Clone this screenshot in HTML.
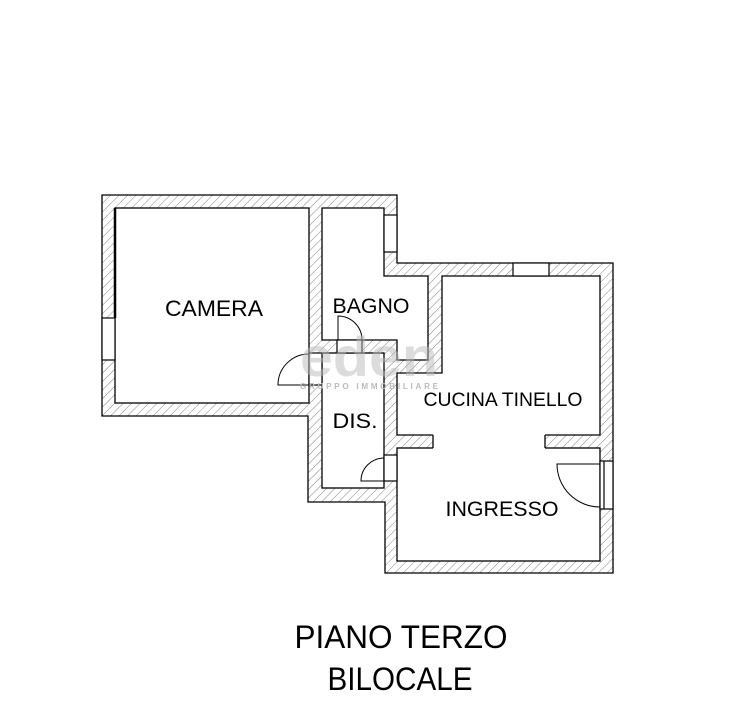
<!DOCTYPE html>
<html><head><meta charset="utf-8"><style>html,body{margin:0;padding:0;background:#fff}svg{display:block}</style></head>
<body>
<svg width="736" height="718" viewBox="0 0 736 718" xmlns="http://www.w3.org/2000/svg" font-family="Liberation Sans, sans-serif">
<defs>
<pattern id="h" patternUnits="userSpaceOnUse" width="6" height="6" patternTransform="rotate(45)">
<rect width="6" height="6" fill="#fff"/>
<line x1="0" y1="0" x2="0" y2="6" stroke="#666" stroke-width="0.8"/>
</pattern>
</defs>
<polygon points="102,195 397,195 397,263 613,263 613,573 385,573 385,502 308,502 308,416 102,416" fill="url(#h)" stroke="#000" stroke-width="1.3"/>
<g fill="#fff" stroke="#000" stroke-width="1.3">
<rect x="115" y="208" width="194" height="195"/>
<polygon points="322,208 384,208 384,276 428,276 428,360 397,360 397,340 322,340"/>
<polygon points="442,276 600,276 600,435 397,435 397,373 442,373"/>
<rect x="322" y="353" width="62" height="135"/>
<rect x="397" y="448" width="203" height="113"/>
</g>
<rect x="433" y="434" width="112" height="15" fill="#fff"/>
<line x1="433" y1="435" x2="433" y2="448" stroke="#000" stroke-width="1.3"/>
<line x1="545" y1="435" x2="545" y2="448" stroke="#000" stroke-width="1.3"/>
<g fill="#fff" stroke="#000" stroke-width="1.2">
<rect x="102" y="318" width="13" height="42"/>
<rect x="384" y="215" width="13" height="37"/>
<rect x="513" y="263" width="36" height="13"/>
<rect x="337" y="340" width="25" height="13"/>
<rect x="309" y="353" width="13" height="32"/>
<rect x="384" y="455" width="13" height="26"/>
<rect x="600" y="461" width="13" height="48"/>
<line x1="604" y1="461" x2="604" y2="509"/>
</g>
<line x1="115" y1="208" x2="115" y2="318" stroke="#000" stroke-width="2.5"/>
<g fill="none" stroke="#000" stroke-width="1">
<path d="M338,340 V316 A24,24 0 0 1 362,340"/>
<path d="M309,385 H278 A31,31 0 0 1 309,354"/>
<path d="M384,481 H361 A23,23 0 0 1 384,458"/>
<path d="M600,464 H557 A43,43 0 0 0 600,507"/>
</g>
<g fill="#bbb" opacity="0.5" font-weight="bold">
<text x="300" y="376" font-size="56" textLength="138" lengthAdjust="spacingAndGlyphs">eden</text>
</g>
<text x="300" y="389" font-size="8" fill="#bbb" font-weight="bold" textLength="138" lengthAdjust="spacing">GRUPPO IMMOBILIARE</text>
<g fill="#000">
<text x="214" y="316" font-size="22" text-anchor="middle" textLength="98" lengthAdjust="spacingAndGlyphs">CAMERA</text>
<text x="371" y="313" font-size="21" text-anchor="middle" textLength="77" lengthAdjust="spacingAndGlyphs">BAGNO</text>
<text x="355" y="428" font-size="21" text-anchor="middle" textLength="45" lengthAdjust="spacingAndGlyphs">DIS.</text>
<text x="503" y="406" font-size="19" text-anchor="middle" textLength="159" lengthAdjust="spacingAndGlyphs">CUCINA TINELLO</text>
<text x="502" y="516" font-size="21" text-anchor="middle" textLength="113" lengthAdjust="spacingAndGlyphs">INGRESSO</text>
<text x="401" y="648" font-size="32" text-anchor="middle" textLength="213" lengthAdjust="spacingAndGlyphs">PIANO TERZO</text>
<text x="400" y="690" font-size="32" text-anchor="middle" textLength="145" lengthAdjust="spacingAndGlyphs">BILOCALE</text>
</g>
</svg>
</body></html>
